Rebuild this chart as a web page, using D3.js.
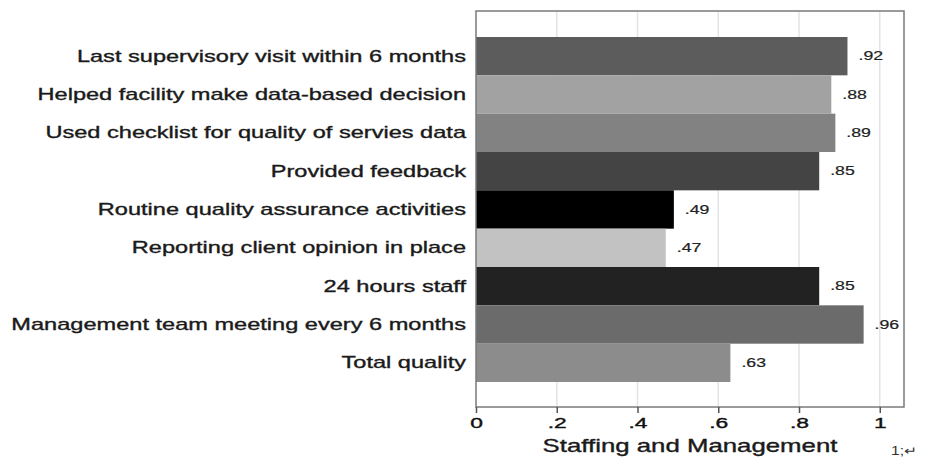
<!DOCTYPE html>
<html>
<head>
<meta charset="utf-8">
<script src="https://cdn.jsdelivr.net/npm/d3@7"></script>
<style>
  body { margin: 0; background: #fff; }
  text { font-family: "Liberation Sans", Arial, sans-serif; }
</style>
</head>
<body>
<svg id="chart" width="928" height="462"></svg>
<script>
const categories = [
  "Last supervisory visit within 6 months",
  "Helped facility make data-based decision",
  "Used checklist for quality of servies data",
  "Provided feedback",
  "Routine quality assurance activities",
  "Reporting client opinion in place",
  "24 hours staff",
  "Management team meeting every 6 months",
  "Total quality",
];
const values = [0.92, 0.88, 0.89, 0.85, 0.49, 0.47, 0.85, 0.96, 0.63];
const valueLabels = [".92", ".88", ".89", ".85", ".49", ".47", ".85", ".96", ".63"];
const barColors = ["#5c5c5c", "#a2a2a2", "#828282", "#444444", "#000000", "#c2c2c2", "#222222", "#6b6b6b", "#8c8c8c"];
const xTicks = [0, 0.2, 0.4, 0.6, 0.8, 1];
const xTickLabels = ["0", ".2", ".4", ".6", ".8", "1"];
const xTitle = "Staffing and Management";

const width = 928;
const height = 462;
const frame = { left: 476, right: 904, top: 11, bottom: 407 };

const svg = d3.select("#chart");

const x = d3.scaleLinear().domain([0, 1.06]).range([frame.left, frame.right]);
const y = d3.scaleBand().domain(categories).range([37, 382]).padding(0);

// the source picture is stretched sideways, so text is widened to match
const measure = svg.append("text").attr("font-size", 16).text(categories[7]);
const k = 455 / measure.node().getComputedTextLength();
measure.remove();

// gridlines
svg.append("g")
  .selectAll("line")
  .data(xTicks.filter((d) => d > 0))
  .join("line")
  .attr("x1", (d) => x(d))
  .attr("x2", (d) => x(d))
  .attr("y1", frame.top)
  .attr("y2", frame.bottom)
  .attr("stroke", "#e4e4e4")
  .attr("stroke-width", 1.5);

// bars
svg.selectAll(".bar")
  .data(values)
  .join("rect")
  .attr("class", "bar")
  .attr("x", x(0))
  .attr("y", (d, i) => y(categories[i]))
  .attr("width", (d) => x(d) - x(0))
  .attr("height", y.bandwidth())
  .attr("fill", (d, i) => barColors[i]);

// frame
svg.append("rect")
  .attr("x", frame.left)
  .attr("y", frame.top)
  .attr("width", frame.right - frame.left)
  .attr("height", frame.bottom - frame.top)
  .attr("fill", "none")
  .attr("stroke", "#7a7a7a")
  .attr("stroke-width", 1.5);

// value labels
svg.selectAll(".val")
  .data(values)
  .join("text")
  .attr("class", "val")
  .attr("transform", (d, i) => `translate(${x(d) + 11},${y(categories[i]) + y.bandwidth() / 2}) scale(${k},1)`)
  .attr("dy", "0.35em")
  .attr("font-size", 12)
  .attr("fill", "#222")
  .attr("stroke", "#222")
  .attr("stroke-width", 0.2)
  .text((d, i) => valueLabels[i]);

// category labels
svg.selectAll(".cat")
  .data(categories)
  .join("text")
  .attr("class", "cat")
  .attr("transform", (d) => `translate(466,${y(d) + y.bandwidth() / 2}) scale(${k},1)`)
  .attr("dy", "0.35em")
  .attr("text-anchor", "end")
  .attr("font-size", 16)
  .attr("fill", "#1a1a1a")
  .attr("stroke", "#1a1a1a")
  .attr("stroke-width", 0.35)
  .text((d) => d);

// x axis
const xAxis = svg.append("g")
  .attr("transform", `translate(0,${frame.bottom})`)
  .call(
    d3.axisBottom(x)
      .tickValues(xTicks)
      .tickFormat((d, i) => xTickLabels[i])
      .tickSize(6)
      .tickPadding(4)
  );
xAxis.select(".domain").remove();
xAxis.selectAll(".tick line").attr("stroke", "#555").attr("stroke-width", 1.5);
xAxis.selectAll(".tick text")
  .attr("font-size", 15.5)
  .attr("fill", "#111")
  .attr("stroke", "#111")
  .attr("stroke-width", 0.4)
  .attr("font-family", "Liberation Sans, Arial, sans-serif")
  .attr("transform", `scale(${k},1)`);

svg.append("text")
  .attr("transform", `translate(${(frame.left + frame.right) / 2},452) scale(${k},1)`)
  .attr("text-anchor", "middle")
  .attr("font-size", 17.5)
  .attr("fill", "#1a1a1a")
  .attr("stroke", "#1a1a1a")
  .attr("stroke-width", 0.35)
  .text(xTitle);

svg.append("text")
  .attr("transform", `translate(891,455) scale(1.3,1)`)
  .attr("font-size", 12)
  .attr("font-family", "Liberation Serif, serif")
  .attr("fill", "#333")
  .text("1;\u21b5");
</script>
</body>
</html>
